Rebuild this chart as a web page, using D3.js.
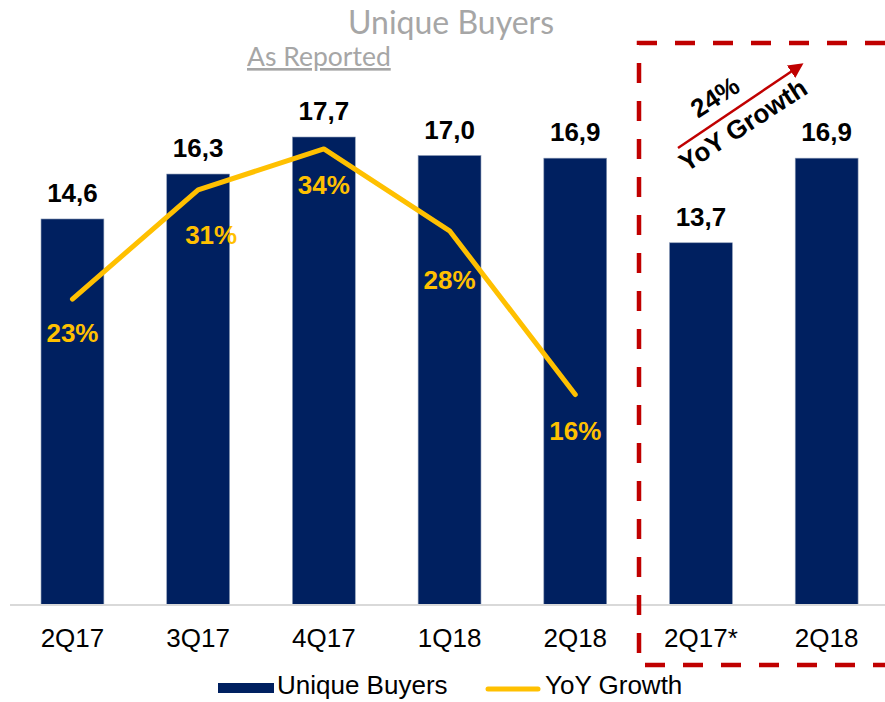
<!DOCTYPE html>
<html>
<head>
<meta charset="utf-8">
<script src="https://cdn.jsdelivr.net/npm/d3@7/dist/d3.min.js"></script>
<style>
  html, body { margin: 0; padding: 0; background: #fff; }
  svg { display: block; }
  text { font-family: "Liberation Sans", Arial, sans-serif; }
</style>
</head>
<body>
<svg id="chart" width="885" height="702"></svg>
<script>
// ---- data ----
const categories = ["2Q17", "3Q17", "4Q17", "1Q18", "2Q18", "2Q17*", "2Q18b"];
const tickLabels = ["2Q17", "3Q17", "4Q17", "1Q18", "2Q18", "2Q17*", "2Q18"];
const uniqueBuyers = [14.6, 16.3, 17.7, 17.0, 16.9, 13.7, 16.9];
const valueLabels = ["14,6", "16,3", "17,7", "17,0", "16,9", "13,7", "16,9"];
const yoyCategories = ["2Q17", "3Q17", "4Q17", "1Q18", "2Q18"];
const yoyGrowth = [23, 31, 34, 28, 16];
const growthHighlight = "24%";
const seriesNames = ["Unique Buyers", "YoY Growth"];

// ---- layout / style ----
const navy = "#002060", gold = "#FFC000", red = "#C00000";
const svg = d3.select("#chart");

const x = d3.scaleBand().domain(categories).range([9.6, 889.5]).paddingInner(0.5).paddingOuter(0.25);
const y = d3.scaleLinear().domain([0, 20]).range([605, 76.2]);
const y2 = d3.scaleLinear().domain([0, 40]).range([613, 67]);

// title
svg.append("text").attr("x", 451).attr("y", 34).attr("text-anchor", "middle")
  .style("font-family", "Lato, sans-serif").style("font-size", "32px").attr("fill", "#a6a6a6")
  .text("Unique Buyers");
svg.append("text").attr("x", 247).attr("y", 66)
  .style("font-family", "Lato, sans-serif").style("font-size", "26.5px").attr("fill", "#a6a6a6")
  .style("text-decoration", "underline")
  .text("As Reported");

// bars
svg.append("g").selectAll("rect").data(categories).join("rect")
  .attr("x", d => x(d)).attr("width", x.bandwidth())
  .attr("y", (d, i) => y(uniqueBuyers[i]))
  .attr("height", (d, i) => y(0) - y(uniqueBuyers[i]))
  .attr("fill", navy).attr("stroke", "#8a9ab5").attr("stroke-width", 0.6);

// value labels
svg.append("g").selectAll("text").data(categories).join("text")
  .attr("x", d => x(d) + x.bandwidth() / 2)
  .attr("y", (d, i) => y(uniqueBuyers[i]) - 17)
  .attr("text-anchor", "middle").style("font-size", "26px").style("font-weight", "bold")
  .attr("fill", "#000").text((d, i) => valueLabels[i]);

// axis
const axis = svg.append("g").attr("transform", "translate(0,605)")
  .call(d3.axisBottom(x).tickSize(0).tickPadding(23.5).tickFormat((d, i) => tickLabels[i]));
axis.select(".domain").attr("stroke", "#d9d9d9").attr("stroke-width", 2)
  .attr("d", "M10,0H885");
axis.selectAll("text").style("font-size", "26px").attr("fill", "#000")
  .style("font-family", "'Liberation Sans', Arial, sans-serif");

// line
const cx = d => x(d) + x.bandwidth() / 2;
const line = d3.line().x((d, i) => cx(yoyCategories[i])).y(d => y2(d));
svg.append("path").datum(yoyGrowth).attr("d", line)
  .attr("fill", "none").attr("stroke", gold).attr("stroke-width", 5)
  .attr("stroke-linecap", "round").attr("stroke-linejoin", "round");

// percentage labels (offsets relative to the line point)
const pctOffset = { "2Q17": [0, 43], "3Q17": [13, 54], "4Q17": [0, 45], "1Q18": [0, 58], "2Q18": [0, 45] };
svg.append("g").selectAll("text").data(yoyGrowth).join("text")
  .attr("x", (d, i) => cx(yoyCategories[i]) + pctOffset[yoyCategories[i]][0])
  .attr("y", (d, i) => y2(d) + pctOffset[yoyCategories[i]][1])
  .attr("text-anchor", "middle").style("font-size", "26px").style("font-weight", "bold")
  .attr("fill", gold).text(d => d + "%");

// dashed highlight box
svg.append("path").attr("d", "M885,43H639V665H885")
  .attr("fill", "none").attr("stroke", red).attr("stroke-width", 4.5)
  .attr("stroke-dasharray", "20,18");

// growth arrow
const defs = svg.append("defs");
defs.append("marker").attr("id", "arrow").attr("viewBox", "0 0 10 10")
  .attr("refX", 8).attr("refY", 5).attr("markerWidth", 6).attr("markerHeight", 6)
  .attr("markerUnits", "strokeWidth").attr("orient", "auto")
  .append("path").attr("d", "M0,0L10,5L0,10z").attr("fill", red);
svg.append("line").attr("x1", 678).attr("y1", 148).attr("x2", 801).attr("y2", 65)
  .attr("stroke", red).attr("stroke-width", 2.5).attr("marker-end", "url(#arrow)");

svg.append("text").attr("transform", "translate(715,97) rotate(-33)")
  .attr("text-anchor", "middle").attr("dominant-baseline", "central")
  .style("font-size", "26px").style("font-weight", "bold").attr("fill", "#000")
  .text(growthHighlight);
svg.append("text").attr("transform", "translate(743,125) rotate(-33)")
  .attr("text-anchor", "middle").attr("dominant-baseline", "central")
  .style("font-size", "26px").style("font-weight", "bold").attr("fill", "#000")
  .text(seriesNames[1]);

// legend
svg.append("rect").attr("x", 218).attr("y", 683).attr("width", 56).attr("height", 10).attr("fill", navy);
svg.append("text").attr("x", 277).attr("y", 694).style("font-size", "26px").attr("fill", "#000").text(seriesNames[0]);
svg.append("line").attr("x1", 488).attr("x2", 538).attr("y1", 689).attr("y2", 689)
  .attr("stroke", gold).attr("stroke-width", 5).attr("stroke-linecap", "round");
svg.append("text").attr("x", 545).attr("y", 694).style("font-size", "26px").attr("fill", "#000").text(seriesNames[1]);
</script>
</body>
</html>
